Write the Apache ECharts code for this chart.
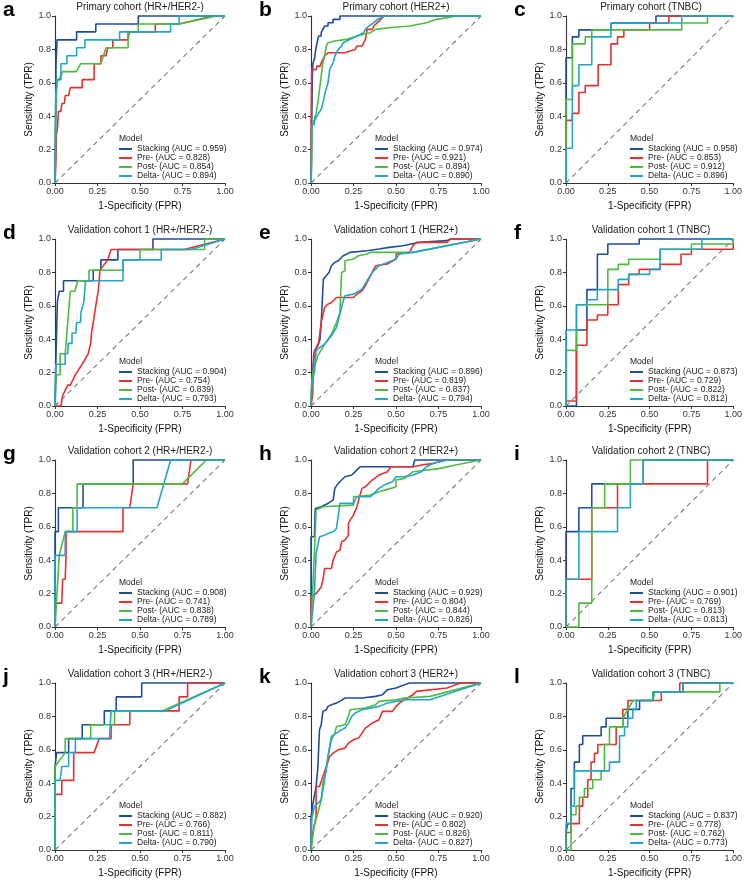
<!DOCTYPE html>
<html><head><meta charset="utf-8">
<script src="https://cdn.jsdelivr.net/npm/echarts@6/dist/echarts.min.js"></script>
<style>html,body{margin:0;padding:0;background:#fff}#c{width:745px;height:880px}</style>
</head><body><div id="c"></div>
<script>
const panelLetters = ['a','b','c','d','e','f','g','h','i','j','k','l'];
const panelTitles = ['Primary cohort (HR+/HER2-)','Primary cohort (HER2+)','Primary cohort (TNBC)',
  'Validation cohort 1 (HR+/HER2-)','Validation cohort 1 (HER2+)','Validation cohort 1 (TNBC)',
  'Validation cohort 2 (HR+/HER2-)','Validation cohort 2 (HER2+)','Validation cohort 2 (TNBC)',
  'Validation cohort 3 (HR+/HER2-)','Validation cohort 3 (HER2+)','Validation cohort 3 (TNBC)'];
const modelNames = ['Stacking','Pre-','Post-','Delta-'];
const aucStacking = [0.959,0.974,0.958,0.904,0.896,0.873,0.908,0.929,0.901,0.882,0.920,0.837];
const aucPre      = [0.828,0.921,0.853,0.754,0.819,0.729,0.741,0.804,0.769,0.766,0.802,0.778];
const aucPost     = [0.854,0.894,0.912,0.839,0.837,0.822,0.838,0.844,0.813,0.811,0.826,0.762];
const aucDelta    = [0.894,0.890,0.896,0.793,0.794,0.812,0.789,0.826,0.813,0.790,0.827,0.773];
const xTickValues = [0, 0.25, 0.5, 0.75, 1];
const yTickValues = [0, 0.2, 0.4, 0.6, 0.8, 1];

// ---- ROC curves: [FPR, TPR] ----
const a_stacking = [[0,0],[0.006,0],[0.006,0.714],[0.012,0.714],[0.012,0.857],[0.127,0.857],[0.127,0.905],[0.24,0.905],[0.24,0.952],[0.49,0.952],[0.49,1],[1,1]];
const a_pre = [[0,0],[0.006,0.143],[0.008,0.286],[0.015,0.333],[0.02,0.429],[0.035,0.429],[0.04,0.476],[0.055,0.476],[0.06,0.524],[0.08,0.524],[0.09,0.571],[0.16,0.571],[0.16,0.619],[0.23,0.619],[0.23,0.714],[0.27,0.714],[0.27,0.762],[0.3,0.762],[0.31,0.81],[0.34,0.81],[0.34,0.857],[0.43,0.857],[0.43,0.905],[0.59,0.905],[0.59,0.952],[0.73,0.952],[0.74,0.962],[0.93,1],[1,1]];
const a_post = [[0,0],[0.004,0.333],[0.01,0.619],[0.025,0.619],[0.045,0.667],[0.125,0.667],[0.15,0.714],[0.27,0.714],[0.3,0.81],[0.43,0.81],[0.43,0.857],[0.44,0.905],[0.49,0.905],[0.49,0.952],[0.73,0.952],[0.95,1],[1,1]];
const a_delta = [[0,0],[0.005,0.524],[0.015,0.619],[0.035,0.619],[0.035,0.714],[0.07,0.714],[0.07,0.762],[0.127,0.762],[0.127,0.81],[0.176,0.81],[0.176,0.857],[0.38,0.857],[0.38,0.905],[0.68,0.905],[0.68,0.952],[0.73,0.952],[0.73,1],[1,1]];

const b_stacking = [[0,0],[0.004,0.32],[0.008,0.64],[0.012,0.64],[0.012,0.72],[0.02,0.72],[0.02,0.74],[0.028,0.74],[0.028,0.8],[0.036,0.8],[0.036,0.84],[0.044,0.84],[0.044,0.88],[0.06,0.88],[0.06,0.9],[0.07,0.9],[0.07,0.92],[0.08,0.92],[0.08,0.94],[0.1,0.94],[0.1,0.96],[0.13,0.96],[0.13,0.98],[0.17,0.98],[0.17,1],[1,1]];
const b_pre = [[0,0],[0,0.32],[0.004,0.32],[0.004,0.68],[0.033,0.68],[0.033,0.7],[0.055,0.7],[0.06,0.72],[0.07,0.74],[0.08,0.76],[0.1,0.78],[0.2,0.78],[0.2,0.79],[0.23,0.79],[0.23,0.8],[0.26,0.8],[0.27,0.82],[0.3,0.82],[0.31,0.84],[0.32,0.84],[0.32,0.86],[0.33,0.86],[0.33,0.92],[0.36,0.92],[0.37,0.94],[0.39,0.96],[0.41,0.98],[0.43,1],[1,1]];
const b_post = [[0,0],[0.004,0.1],[0.008,0.35],[0.02,0.38],[0.03,0.42],[0.04,0.48],[0.05,0.56],[0.06,0.64],[0.07,0.72],[0.08,0.76],[0.09,0.82],[0.1,0.84],[0.14,0.85],[0.21,0.86],[0.27,0.88],[0.35,0.9],[0.38,0.92],[0.46,0.93],[0.58,0.94],[0.68,0.96],[0.74,0.98],[0.86,1],[1,1]];
const b_delta = [[0,0],[0.004,0.35],[0.02,0.35],[0.02,0.37],[0.035,0.4],[0.045,0.42],[0.06,0.44],[0.075,0.5],[0.085,0.55],[0.1,0.6],[0.11,0.68],[0.13,0.72],[0.14,0.76],[0.16,0.8],[0.18,0.82],[0.19,0.84],[0.23,0.86],[0.27,0.88],[0.31,0.9],[0.32,0.92],[0.34,0.94],[0.37,0.96],[0.39,0.98],[0.44,1],[1,1]];

const c_stacking = [[0,0],[0,0.75],[0.038,0.75],[0.038,0.875],[0.077,0.875],[0.077,0.917],[0.269,0.917],[0.269,0.958],[0.538,0.958],[0.538,1],[1,1]];
const c_pre = [[0,0],[0,0.375],[0.038,0.375],[0.038,0.417],[0.077,0.417],[0.077,0.542],[0.115,0.542],[0.115,0.583],[0.192,0.583],[0.192,0.708],[0.269,0.708],[0.269,0.833],[0.308,0.833],[0.308,0.875],[0.346,0.875],[0.346,0.917],[0.5,0.917],[0.5,0.958],[0.615,0.958],[0.615,1],[1,1]];
const c_post = [[0,0],[0,0.5],[0.038,0.5],[0.038,0.833],[0.115,0.833],[0.115,0.875],[0.154,0.875],[0.154,0.917],[0.692,0.917],[0.692,0.958],[0.846,0.958],[0.846,1],[1,1]];
const c_delta = [[0,0],[0,0.208],[0.038,0.208],[0.038,0.583],[0.077,0.583],[0.077,0.708],[0.154,0.708],[0.154,0.875],[0.269,0.875],[0.269,0.958],[0.692,0.958],[0.692,1],[1,1]];

const d_stacking = [[0,0],[0.006,0],[0.006,0.3125],[0.014,0.3125],[0.014,0.625],[0.025,0.625],[0.025,0.6875],[0.05,0.6875],[0.05,0.75],[0.225,0.75],[0.225,0.8125],[0.27,0.8125],[0.27,0.875],[0.37,0.875],[0.37,0.9375],[0.576,0.9375],[0.576,1],[1,1]];
const d_pre = [[0,0],[0.035,0],[0.045,0.0625],[0.075,0.125],[0.09,0.125],[0.12,0.1875],[0.16,0.25],[0.195,0.3125],[0.21,0.375],[0.215,0.4375],[0.225,0.5],[0.234,0.5625],[0.244,0.625],[0.254,0.6875],[0.26,0.75],[0.264,0.8125],[0.31,0.875],[0.33,0.9375],[0.76,0.9375],[1,1]];
const d_post = [[0,0],[0.005,0.125],[0.01,0.1875],[0.03,0.1875],[0.03,0.3125],[0.06,0.3125],[0.065,0.375],[0.075,0.5],[0.08,0.5625],[0.085,0.625],[0.09,0.6875],[0.117,0.6875],[0.133,0.75],[0.2,0.75],[0.2,0.8125],[0.4,0.8125],[0.4,0.875],[0.5,0.875],[0.5,0.9375],[0.88,0.9375],[0.88,1],[1,1]];
const d_delta = [[0,0],[0.005,0.25],[0.06,0.25],[0.06,0.3125],[0.075,0.3125],[0.078,0.375],[0.1,0.375],[0.1,0.4375],[0.123,0.4375],[0.127,0.5],[0.15,0.5],[0.153,0.5625],[0.17,0.625],[0.175,0.6875],[0.18,0.75],[0.4,0.75],[0.4,0.875],[0.625,0.875],[0.625,0.9375],[0.8,0.9375],[1,1]];

const e_stacking = [[0,0],[0.004,0.1],[0.01,0.2],[0.02,0.33],[0.04,0.36],[0.053,0.4],[0.06,0.5],[0.07,0.5],[0.073,0.76],[0.09,0.78],[0.106,0.8],[0.12,0.84],[0.14,0.86],[0.16,0.87],[0.19,0.9],[0.23,0.92],[0.33,0.93],[0.4,0.94],[0.46,0.95],[0.54,0.96],[0.64,0.98],[0.8,0.99],[0.82,1],[1,1]];
const e_pre = [[0,0],[0.01,0.07],[0.015,0.3],[0.03,0.35],[0.045,0.38],[0.06,0.5],[0.08,0.59],[0.1,0.61],[0.12,0.62],[0.15,0.65],[0.25,0.65],[0.27,0.67],[0.3,0.69],[0.32,0.72],[0.34,0.76],[0.36,0.8],[0.38,0.84],[0.45,0.85],[0.48,0.87],[0.5,0.88],[0.5,0.91],[0.58,0.92],[0.6,0.96],[0.62,0.98],[0.8,0.98],[0.82,1],[1,1]];
const e_post = [[0,0],[0.005,0.15],[0.01,0.2],[0.04,0.3],[0.08,0.37],[0.12,0.43],[0.15,0.5],[0.17,0.56],[0.18,0.57],[0.18,0.8],[0.2,0.81],[0.2,0.87],[0.25,0.88],[0.28,0.9],[0.33,0.91],[0.35,0.92],[0.6,0.92],[1,1]];
const e_delta = [[0,0],[0.005,0.15],[0.02,0.2],[0.03,0.33],[0.05,0.35],[0.08,0.37],[0.12,0.42],[0.15,0.47],[0.17,0.55],[0.19,0.63],[0.2,0.66],[0.25,0.67],[0.3,0.7],[0.33,0.75],[0.36,0.8],[0.4,0.84],[0.45,0.86],[0.5,0.88],[0.52,0.91],[0.6,0.92],[1,1]];

const f_stacking = [[0,0],[0.0625,0],[0.0625,0.455],[0.125,0.455],[0.125,0.697],[0.1875,0.697],[0.1875,0.909],[0.25,0.909],[0.25,0.97],[0.4375,0.97],[0.4375,1],[1,1]];
const f_pre = [[0,0],[0,0.03],[0.0625,0.03],[0.0625,0.364],[0.125,0.364],[0.125,0.515],[0.1875,0.515],[0.1875,0.545],[0.25,0.545],[0.25,0.606],[0.3125,0.606],[0.3125,0.727],[0.375,0.727],[0.375,0.788],[0.4375,0.788],[0.4375,0.818],[0.5625,0.818],[0.5625,0.848],[0.6875,0.848],[0.6875,0.909],[0.75,0.909],[0.75,0.939],[1,0.939],[1,1]];
const f_post = [[0,0],[0,0.333],[0.0625,0.333],[0.0625,0.606],[0.25,0.606],[0.25,0.818],[0.3125,0.818],[0.3125,0.848],[0.375,0.848],[0.375,0.879],[0.5625,0.879],[0.5625,0.939],[0.75,0.939],[0.75,0.97],[1,0.97],[1,1]];
const f_delta = [[0,0],[0,0.455],[0.0625,0.455],[0.0625,0.606],[0.125,0.606],[0.125,0.636],[0.1875,0.636],[0.1875,0.697],[0.3125,0.697],[0.3125,0.758],[0.375,0.758],[0.375,0.788],[0.5,0.788],[0.5,0.818],[0.5625,0.818],[0.5625,0.939],[0.8125,0.939],[0.8125,1],[1,1]];

const g_stacking = [[0,0],[0,0.571],[0.02,0.571],[0.02,0.714],[0.165,0.714],[0.165,0.857],[0.46,0.857],[0.46,1],[1,1]];
const g_pre = [[0,0],[0,0.143],[0.04,0.143],[0.045,0.286],[0.06,0.286],[0.065,0.429],[0.065,0.571],[0.4,0.571],[0.4,0.714],[0.44,0.714],[0.46,0.857],[0.78,0.857],[0.8,1],[1,1]];
const g_post = [[0,0],[0.025,0.429],[0.06,0.571],[0.105,0.571],[0.105,0.714],[0.13,0.714],[0.13,0.857],[0.75,0.857],[0.89,1],[1,1]];
const g_delta = [[0,0],[0,0.429],[0.06,0.429],[0.06,0.571],[0.13,0.571],[0.13,0.714],[0.6,0.714],[0.68,1],[1,1]];

const h_stacking = [[0,0],[0,0.54],[0.02,0.54],[0.025,0.71],[0.06,0.72],[0.08,0.73],[0.1,0.74],[0.13,0.76],[0.14,0.83],[0.16,0.86],[0.18,0.88],[0.2,0.9],[0.24,0.91],[0.26,0.93],[0.29,0.96],[0.6,0.96],[0.61,1],[1,1]];
const h_pre = [[0,0],[0,0.18],[0.01,0.19],[0.03,0.2],[0.06,0.24],[0.07,0.28],[0.08,0.35],[0.12,0.35],[0.13,0.4],[0.15,0.45],[0.17,0.46],[0.18,0.51],[0.2,0.52],[0.22,0.55],[0.22,0.62],[0.23,0.64],[0.25,0.67],[0.27,0.72],[0.28,0.76],[0.3,0.83],[0.32,0.84],[0.34,0.86],[0.36,0.88],[0.4,0.91],[0.45,0.93],[0.47,0.96],[0.6,0.96],[0.65,0.97],[0.72,0.98],[0.8,1],[1,1]];
const h_post = [[0,0],[0.02,0.44],[0.03,0.7],[0.05,0.71],[0.07,0.72],[0.08,0.73],[0.25,0.73],[0.25,0.78],[0.35,0.79],[0.4,0.81],[0.47,0.83],[0.5,0.84],[0.5,0.88],[0.55,0.89],[0.6,0.93],[0.76,0.95],[0.85,0.97],[1,1]];
const h_delta = [[0,0],[0.02,0.2],[0.03,0.44],[0.05,0.54],[0.08,0.55],[0.1,0.56],[0.13,0.57],[0.15,0.59],[0.16,0.59],[0.17,0.74],[0.25,0.74],[0.27,0.78],[0.35,0.78],[0.37,0.8],[0.4,0.83],[0.43,0.85],[0.48,0.87],[0.5,0.9],[0.55,0.9],[0.6,0.91],[0.65,0.93],[0.68,0.96],[0.72,0.98],[0.8,1],[1,1]];

const i_stacking = [[0,0],[0,0.571],[0.077,0.571],[0.077,0.714],[0.154,0.714],[0.154,0.857],[0.462,0.857],[0.462,1],[1,1]];
const i_pre = [[0,0],[0,0.286],[0.154,0.286],[0.154,0.714],[0.308,0.714],[0.308,0.857],[0.846,0.857],[0.846,1],[1,1]];
const i_post = [[0,0],[0.077,0],[0.077,0.143],[0.154,0.143],[0.154,0.714],[0.231,0.714],[0.231,0.857],[0.385,0.857],[0.385,1],[1,1]];
const i_delta = [[0,0],[0,0.286],[0.077,0.286],[0.077,0.571],[0.308,0.571],[0.308,0.714],[0.385,0.714],[0.385,0.857],[0.462,0.857],[0.462,1],[1,1]];

const j_stacking = [[0,0],[0,0.5],[0.01,0.5],[0.01,0.583],[0.08,0.583],[0.08,0.667],[0.16,0.667],[0.16,0.75],[0.29,0.75],[0.29,0.833],[0.36,0.833],[0.36,0.917],[0.51,0.917],[0.51,1],[1,1]];
const j_pre = [[0,0],[0,0.333],[0.04,0.333],[0.04,0.417],[0.11,0.417],[0.11,0.583],[0.23,0.583],[0.26,0.667],[0.33,0.667],[0.33,0.75],[0.44,0.75],[0.44,0.833],[0.73,0.833],[0.73,0.917],[0.78,0.917],[0.78,1],[1,1]];
const j_post = [[0,0],[0,0.5],[0.01,0.5],[0.06,0.583],[0.06,0.667],[0.21,0.667],[0.21,0.75],[0.35,0.75],[0.35,0.833],[0.63,0.833],[1,1]];
const j_delta = [[0,0],[0,0.417],[0.03,0.417],[0.04,0.5],[0.08,0.5],[0.08,0.583],[0.12,0.583],[0.12,0.667],[0.32,0.667],[0.33,0.833],[0.65,0.833],[1,1]];

const k_stacking = [[0,0],[0,0.19],[0.01,0.27],[0.02,0.27],[0.03,0.38],[0.04,0.49],[0.05,0.5],[0.05,0.72],[0.06,0.75],[0.07,0.83],[0.09,0.84],[0.1,0.86],[0.12,0.87],[0.15,0.88],[0.17,0.89],[0.2,0.91],[0.3,0.91],[0.38,0.92],[0.42,0.93],[0.45,0.96],[0.5,0.97],[0.55,0.99],[0.58,1],[1,1]];
const k_pre = [[0,0],[0.01,0.1],[0.02,0.1],[0.03,0.2],[0.03,0.38],[0.05,0.38],[0.07,0.44],[0.08,0.47],[0.1,0.53],[0.11,0.56],[0.13,0.58],[0.16,0.6],[0.2,0.61],[0.22,0.64],[0.25,0.66],[0.28,0.67],[0.3,0.7],[0.32,0.73],[0.36,0.76],[0.4,0.78],[0.42,0.83],[0.48,0.83],[0.5,0.86],[0.52,0.88],[0.55,0.9],[0.6,0.93],[0.62,0.95],[0.8,0.97],[0.85,0.99],[0.88,1],[1,1]];
const k_post = [[0,0],[0.02,0.15],[0.04,0.22],[0.06,0.3],[0.07,0.4],[0.09,0.48],[0.1,0.56],[0.12,0.66],[0.14,0.7],[0.15,0.74],[0.2,0.75],[0.22,0.8],[0.23,0.84],[0.32,0.85],[0.38,0.87],[0.4,0.89],[0.5,0.9],[0.55,0.91],[0.7,0.92],[1,1]];
const k_delta = [[0,0],[0.005,0.19],[0.02,0.26],[0.04,0.28],[0.06,0.3],[0.08,0.42],[0.1,0.56],[0.12,0.68],[0.15,0.7],[0.18,0.72],[0.2,0.73],[0.22,0.76],[0.24,0.8],[0.26,0.82],[0.3,0.84],[0.4,0.86],[0.45,0.88],[0.5,0.89],[0.55,0.9],[0.7,0.9],[1,1]];

const l_stacking = [[0,0],[0,0.105],[0.01,0.105],[0.01,0.158],[0.03,0.158],[0.03,0.368],[0.05,0.368],[0.05,0.526],[0.08,0.526],[0.08,0.632],[0.1,0.632],[0.1,0.684],[0.21,0.684],[0.21,0.737],[0.24,0.737],[0.24,0.789],[0.37,0.789],[0.37,0.842],[0.44,0.842],[0.44,0.895],[0.52,0.895],[0.52,0.947],[0.7,0.947],[0.7,1],[1,1]];
const l_pre = [[0,0],[0,0.105],[0.03,0.105],[0.03,0.158],[0.08,0.158],[0.08,0.263],[0.1,0.263],[0.1,0.316],[0.13,0.316],[0.13,0.421],[0.15,0.421],[0.15,0.526],[0.17,0.526],[0.17,0.579],[0.19,0.579],[0.19,0.632],[0.3,0.632],[0.3,0.737],[0.34,0.737],[0.34,0.842],[0.37,0.842],[0.37,0.895],[0.57,0.895],[0.57,0.947],[0.68,0.947],[0.68,1],[1,1]];
const l_post = [[0,0],[0.03,0],[0.03,0.211],[0.06,0.211],[0.06,0.263],[0.08,0.263],[0.08,0.316],[0.11,0.316],[0.11,0.368],[0.16,0.368],[0.16,0.421],[0.21,0.421],[0.21,0.474],[0.23,0.474],[0.23,0.632],[0.26,0.632],[0.26,0.737],[0.34,0.737],[0.34,0.789],[0.4,0.895],[0.52,0.895],[0.52,0.947],[0.92,0.947],[0.92,1],[1,1]];
const l_delta = [[0,0],[0,0.158],[0.03,0.158],[0.03,0.263],[0.05,0.263],[0.05,0.474],[0.26,0.474],[0.26,0.526],[0.32,0.526],[0.32,0.684],[0.35,0.684],[0.35,0.737],[0.37,0.737],[0.37,0.789],[0.4,0.789],[0.4,0.842],[0.42,0.842],[0.42,0.895],[0.52,0.895],[0.53,0.947],[0.7,0.947],[0.7,1],[1,1]];

const chanceLine = [[0,0],[1,1]];

const curvesByPanel = [
  [a_stacking,a_pre,a_post,a_delta],[b_stacking,b_pre,b_post,b_delta],[c_stacking,c_pre,c_post,c_delta],
  [d_stacking,d_pre,d_post,d_delta],[e_stacking,e_pre,e_post,e_delta],[f_stacking,f_pre,f_post,f_delta],
  [g_stacking,g_pre,g_post,g_delta],[h_stacking,h_pre,h_post,h_delta],[i_stacking,i_pre,i_post,i_delta],
  [j_stacking,j_pre,j_post,j_delta],[k_stacking,k_pre,k_post,k_delta],[l_stacking,l_pre,l_post,l_delta]];
const aucByModel = [aucStacking, aucPre, aucPost, aucDelta];

// ---- layout & style ----
const colors = ['#1F4E9C','#E8312E','#4FBB3E','#22A7C8'];
const FONT = '"Liberation Sans", Arial, Helvetica, sans-serif';
const colLeft = [55, 311, 566];
const rowTop = [16, 239, 460, 683];
const W = 170, H = 167;

const option = {animation:false, backgroundColor:'#fff', textStyle:{fontFamily:FONT},
  grid:[], xAxis:[], yAxis:[], series:[], legend:[], graphic:[]};

for (let p = 0; p < 12; p++) {
  const L = colLeft[p % 3], T = rowTop[Math.floor(p / 3)];
  option.grid.push({left:L, top:T, width:W, height:H});
  option.xAxis.push({type:'value', gridIndex:p, min:xTickValues[0], max:xTickValues[xTickValues.length-1], interval:0.25,
    name:'1-Specificity (FPR)', nameLocation:'middle', nameGap:18,
    nameTextStyle:{fontSize:10, color:'#111', fontFamily:FONT},
    axisLine:{show:true, onZero:false, lineStyle:{color:'#333', width:1.1}},
    axisTick:{show:true, length:3, lineStyle:{color:'#333', width:1}},
    axisLabel:{fontSize:9, color:'#333', margin:4, fontFamily:FONT, formatter:v => v.toFixed(2)},
    splitLine:{show:false}});
  option.yAxis.push({type:'value', gridIndex:p, min:yTickValues[0], max:yTickValues[yTickValues.length-1], interval:0.2,
    name:'Sensitivity (TPR)', nameLocation:'middle', nameGap:21,
    nameTextStyle:{fontSize:10, color:'#111', fontFamily:FONT},
    axisLine:{show:true, onZero:false, lineStyle:{color:'#333', width:1.1}},
    axisTick:{show:true, length:3, lineStyle:{color:'#333', width:1}},
    axisLabel:{fontSize:9, color:'#333', margin:4, fontFamily:FONT, formatter:v => v.toFixed(1)},
    splitLine:{show:false}});
  option.series.push({type:'line', xAxisIndex:p, yAxisIndex:p, data:chanceLine, symbol:'none', silent:true,
    lineStyle:{color:'#7a7a7a', width:1.1, type:[5,4]}, z:1});
  const names = [];
  for (let m = 0; m < 4; m++) {
    const nm = modelNames[m] + ' (AUC = ' + aucByModel[m][p].toFixed(3) + ')';
    names.push(nm);
    option.series.push({type:'line', name:nm, xAxisIndex:p, yAxisIndex:p, data:curvesByPanel[p][m],
      symbol:'none', showSymbol:false, clip:false, color:colors[m],
      lineStyle:{color:colors[m], width:1.6}, z:2+m});
  }
  option.legend.push({data:names, orient:'vertical', left:L+64, top:T+H-38.5, padding:0,
    itemWidth:13, itemHeight:2, itemGap:0, icon:'rect', selectedMode:false,
    textStyle:{fontSize:8.5, color:'#222', lineHeight:9, fontFamily:FONT}});
  option.graphic.push({type:'text', x:L+W/2, y:T-9, silent:true,
    style:{text:panelTitles[p], font:'10px ' + FONT, fill:'#222', align:'center', verticalAlign:'middle'}});
  option.graphic.push({type:'text', x:L-52, y:T-6, silent:true,
    style:{text:panelLetters[p], font:'bold 21px ' + FONT, fill:'#000', align:'left', verticalAlign:'middle'}});
  option.graphic.push({type:'text', x:L+64, y:T+H-44, silent:true,
    style:{text:'Model', font:'8.5px ' + FONT, fill:'#222', align:'left', verticalAlign:'middle'}});
}

const chart = echarts.init(document.getElementById('c'), null, {renderer:'canvas'});
chart.setOption(option);
</script>
</body></html>
